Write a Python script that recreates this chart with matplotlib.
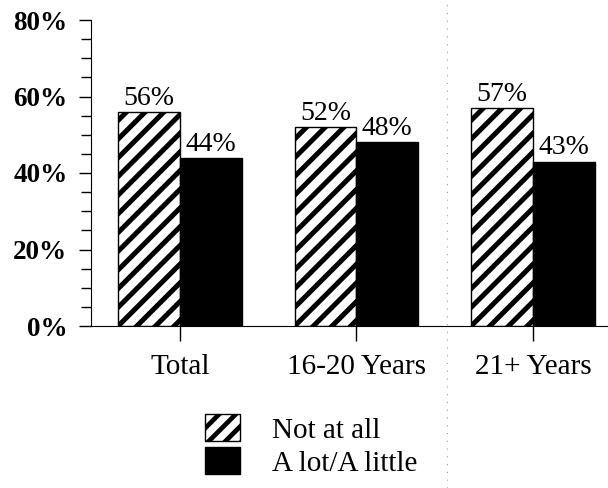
import matplotlib
matplotlib.use("Agg")
import matplotlib.pyplot as plt
import numpy as np
from matplotlib.patches import Patch
from matplotlib.lines import Line2D
from matplotlib.transforms import IdentityTransform
from matplotlib.ticker import MultipleLocator, FuncFormatter

categories = ["Total", "16-20 Years", "21+ Years"]
not_at_all = [56, 52, 57]
a_lot_little = [44, 48, 43]
series_names = ["Not at all", "A lot/A little"]

plt.rcParams['font.family'] = ['Liberation Serif', 'DejaVu Serif']
plt.rcParams['hatch.linewidth'] = 3.4
plt.rcParams['hatch.color'] = 'black'

fig = plt.figure(figsize=(6.08, 4.88), dpi=100)
ax = fig.add_axes([91/608, 1-326/488, 1-91/608, (326-20)/488])

x = np.arange(len(categories))
w = 0.35
b1 = ax.bar(x - w/2, not_at_all, w, facecolor='none', edgecolor='black', linewidth=1.0, zorder=2)
b2 = ax.bar(x + w/2, a_lot_little, w, facecolor='black', edgecolor='black', linewidth=1.0, zorder=2)

ax.set_xlim(-0.504, 2.425)
ax.set_ylim(0, 80)

# diagonal hatching of the "Not at all" bars, clipped to each bar
spacing = 18.7  # px, vertical distance between stripes
for r in b1:
    (px0, py0) = ax.transData.transform((r.get_x(), r.get_y()))
    (px1, py1) = ax.transData.transform((r.get_x() + r.get_width(), r.get_y() + r.get_height()))
    cmin = py0 - px1 - spacing
    cmax = py1 - px0 + spacing
    c = py0 - px0 - spacing * np.ceil((py0 - px0 - cmin) / spacing)
    while c <= cmax:
        ln = Line2D([px0 - 5, px1 + 5], [px0 - 5 + c, px1 + 5 + c], transform=IdentityTransform(),
                    color='black', linewidth=3.6, solid_capstyle='butt', zorder=1.5)
        fig.add_artist(ln)
        ln.set_clip_path(r)
        c += spacing

for bars, vals in ((b1, not_at_all), (b2, a_lot_little)):
    for r, v in zip(bars, vals):
        ax.text(r.get_x() + r.get_width()/2, v + 0.3, f"{v}%", ha='center', va='bottom', fontsize=20)

ax.yaxis.set_major_locator(MultipleLocator(20))
ax.yaxis.set_minor_locator(MultipleLocator(5))
ax.yaxis.set_major_formatter(FuncFormatter(lambda v, p: f"{int(v)}%"))
ax.tick_params(axis='y', which='major', direction='out', length=9, width=1, labelsize=19.5, pad=8)
ax.tick_params(axis='y', which='minor', direction='out', length=7, width=1)
ax.set_xticks(x)
ax.set_xticklabels(categories, fontsize=21)
ax.tick_params(axis='x', direction='out', length=11, width=1, pad=9)
for lab in ax.get_yticklabels():
    lab.set_fontweight('bold')

ax.spines['top'].set_visible(False)
ax.spines['right'].set_visible(False)

# faint scan fold line
fig.add_artist(Line2D([447/608, 447/608], [0, 1], transform=fig.transFigure,
                      color='#999999', linestyle=(0, (1, 6)), linewidth=0.8))

handles = [Patch(facecolor='white', edgecolor='black', hatch='//', label=series_names[0]),
           Patch(facecolor='black', edgecolor='black', label=series_names[1])]
fig.legend(handles=handles, loc='upper left', bbox_to_anchor=(179/608, 1-388/488), frameon=False,
           fontsize=21, handlelength=1.2, handleheight=1.05, handletextpad=1.1, labelspacing=0.12)

fig.savefig("out.png", dpi=100)
